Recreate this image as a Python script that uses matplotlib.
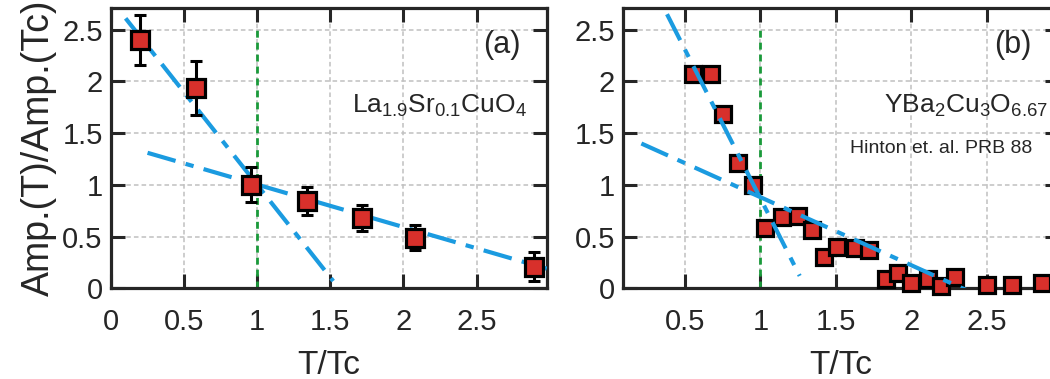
import matplotlib
matplotlib.use("Agg")
import matplotlib.pyplot as plt
from matplotlib import font_manager

# fonts: condensed one for the x axis if it is there
names = set(f.name for f in font_manager.fontManager.ttflist)
narrow = "Liberation Sans Narrow" if "Liberation Sans Narrow" in names else "Liberation Sans"
plt.rcParams['font.family'] = ['Liberation Sans', 'DejaVu Sans']
plt.rcParams['mathtext.fontset'] = 'custom'
plt.rcParams['mathtext.rm'] = 'Liberation Sans'
plt.rcParams['mathtext.it'] = 'Liberation Sans'

# panel (a): La1.9Sr0.1CuO4
lsco_t = [0.20, 0.58, 0.96, 1.34, 1.72, 2.08, 2.89]
lsco_amp = [2.40, 1.94, 1.00, 0.84, 0.68, 0.49, 0.21]
lsco_err = [0.24, 0.26, 0.17, 0.135, 0.13, 0.12, 0.14]
lsco_fit1_x = [0.10, 1.52]
lsco_fit1_y = [2.61, 0.07]
lsco_fit2_x = [0.25, 2.98]
lsco_fit2_y = [1.31, 0.19]

# panel (b): YBa2Cu3O6.67 (Hinton et al.)
ybco_t = [0.55, 0.67, 0.75, 0.85, 0.95, 1.03, 1.14, 1.25, 1.34, 1.42, 1.51,
          1.63, 1.72, 1.83, 1.91, 2.00, 2.11, 2.20, 2.29, 2.50, 2.67, 2.87]
ybco_amp = [2.07, 2.07, 1.69, 1.21, 1.00, 0.58, 0.69, 0.70, 0.56, 0.30, 0.40,
            0.39, 0.37, 0.09, 0.15, 0.05, 0.09, 0.02, 0.11, 0.03, 0.03, 0.05]
ybco_fit1_x = [0.38, 1.26]
ybco_fit1_y = [2.65, 0.12]
ybco_fit2_x = [0.21, 2.37]
ybco_fit2_y = [1.40, -0.02]

yticks = [0, 0.5, 1, 1.5, 2, 2.5]
ytick_labels = ['0', '0.5', '1', '1.5', '2', '2.5']
xticks_a = [0, 0.5, 1, 1.5, 2, 2.5]
xticks_b = [0.5, 1, 1.5, 2, 2.5]

red = '#d8302b'
blue = '#1b9be0'
green = '#1a9a3a'
ink = '#262626'

fig = plt.figure(figsize=(10.5, 3.79), dpi=100)
ax1 = fig.add_axes([0.1057, 0.2393, 0.415, 0.7396])
ax2 = fig.add_axes([0.5936, 0.2393, 0.415, 0.7396])


def style(ax, xlim, xticks):
    ax.set_xlim(*xlim)
    ax.set_ylim(0, 2.71)
    ax.set_yticks(yticks)
    ax.set_yticklabels(ytick_labels, fontsize=21, color=ink)
    ax.set_xticks(xticks)
    ax.set_xticklabels([('%g' % v) for v in xticks], fontsize=21,
                       color=ink, family=narrow)
    ax.tick_params(direction='in', length=10, width=2.2, color=ink,
                   top=True, right=True, pad=6)
    ax.tick_params(axis='x', pad=14)
    ax.grid(True, color='#c0c0c0', linestyle=(0, (3, 2)), linewidth=1.1)
    ax.set_axisbelow(True)
    for s in ax.spines.values():
        s.set_linewidth(2.3)
        s.set_color(ink)
    ax.set_xlabel('T/Tc', fontsize=24, color=ink, family=narrow, labelpad=10)
    ax.vlines(1, 0, 2.5, colors=green, linestyles=(0, (2.5, 1.8)),
              linewidth=2.0, zorder=2)


style(ax1, (0, 2.98), xticks_a)
style(ax2, (0.09, 2.98), xticks_b)

dash = (0, (7, 2.5, 2, 2.5))

ax1.plot(lsco_fit1_x, lsco_fit1_y, color=blue, lw=3, linestyle=dash, zorder=3)
ax1.plot(lsco_fit2_x, lsco_fit2_y, color=blue, lw=3, linestyle=dash, zorder=3)
ax1.errorbar(lsco_t, lsco_amp, yerr=lsco_err, fmt='none', ecolor='black',
             elinewidth=2.2, capsize=4, capthick=2.2, zorder=4)
ax1.plot(lsco_t, lsco_amp, 's', ms=12.5, mfc=red, mec='black', mew=2.3,
         zorder=4.5)

ax2.plot(ybco_t, ybco_amp, 's', ms=11, mfc=red, mec='black', mew=2.3,
         zorder=4, clip_on=False)
ax2.plot(ybco_fit1_x, ybco_fit1_y, color=blue, lw=3, linestyle=dash, zorder=5)
ax2.plot(ybco_fit2_x, ybco_fit2_y, color=blue, lw=3, linestyle=dash, zorder=5)

ax1.set_ylabel('Amp.(T)/Amp.(Tc)', fontsize=27, color=ink, labelpad=4)

ax1.text(0.897, 0.868, '(a)', transform=ax1.transAxes, fontsize=22,
         color=ink, ha='center', va='center')
ax1.text(0.955, 0.65, r'La$_{\mathregular{1.9}}$Sr$_{\mathregular{0.1}}$CuO$_{\mathregular{4}}$',
         transform=ax1.transAxes, fontsize=19, color=ink, ha='right',
         va='center')
ax2.text(0.894, 0.868, '(b)', transform=ax2.transAxes, fontsize=22,
         color=ink, ha='center', va='center')
ax2.text(0.975, 0.65, r'YBa$_{\mathregular{2}}$Cu$_{\mathregular{3}}$O$_{\mathregular{6.67}}$',
         transform=ax2.transAxes, fontsize=19, color=ink, ha='right',
         va='center')
ax2.text(0.73, 0.50, 'Hinton et. al. PRB 88', transform=ax2.transAxes,
         fontsize=14, color=ink, ha='center', va='center')

fig.savefig('out.png', dpi=100)
